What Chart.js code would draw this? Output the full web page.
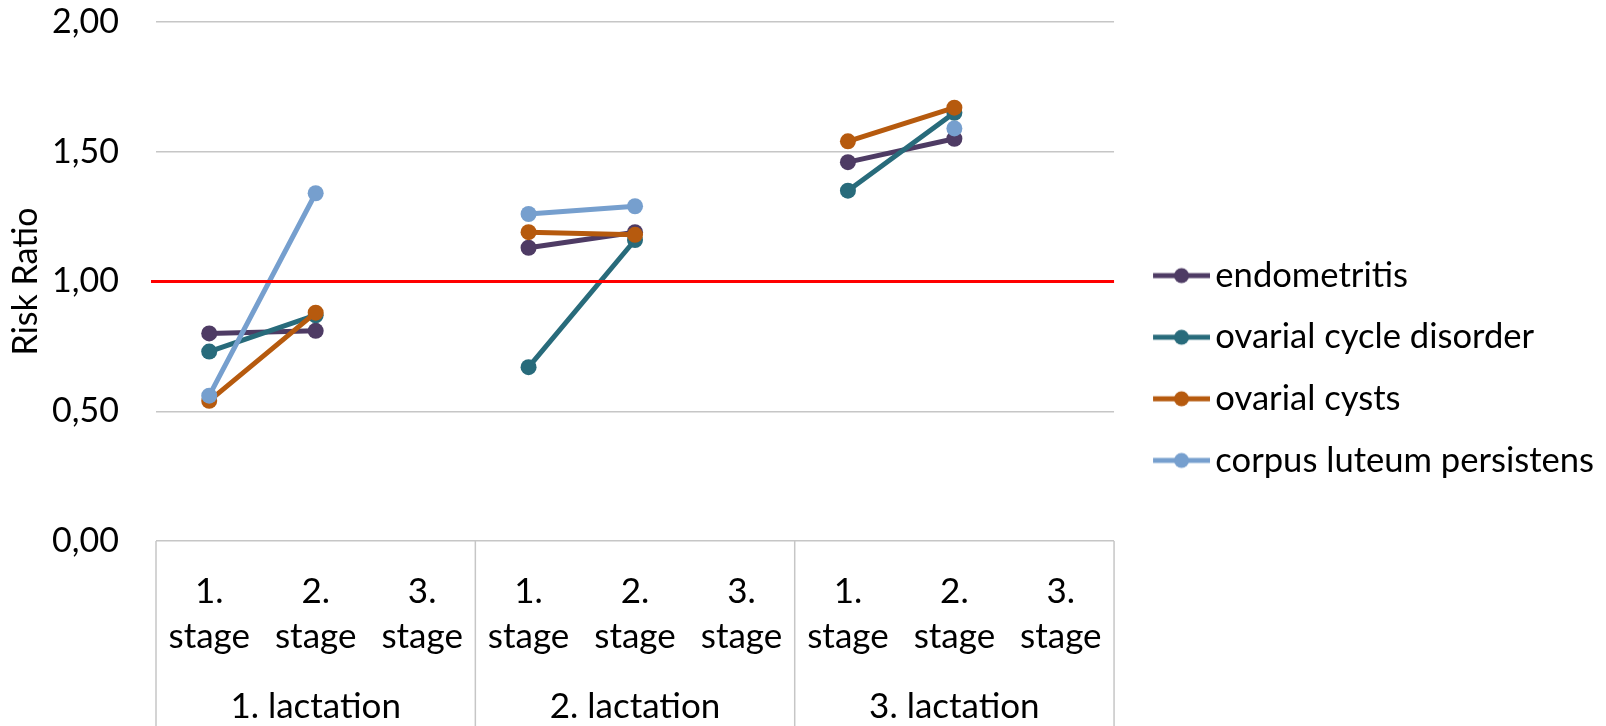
<!DOCTYPE html>
<html>
<head>
<meta charset="utf-8">
<script src="https://cdn.jsdelivr.net/npm/chart.js@4"></script>
<style>
    body { margin: 0; background: #fff; }
    #wrap { width: 1606px; height: 726px; }
</style>
</head>
<body>
<div id="wrap"><canvas id="riskChart" width="1606" height="726"></canvas></div>
<script>
const lactations = ['1. lactation', '2. lactation', '3. lactation'];
const stages = [
    ['1.', 'stage'], ['2.', 'stage'], ['3.', 'stage'],
    ['1.', 'stage'], ['2.', 'stage'], ['3.', 'stage'],
    ['1.', 'stage'], ['2.', 'stage'], ['3.', 'stage']
];
const yTicks = [0, 0.5, 1, 1.5, 2];
const referenceValue = 1;

const endometritis         = [0.80, 0.81, null, 1.13, 1.19, null, 1.46, 1.55, null];
const ovarialCycleDisorder = [0.73, 0.87, null, 0.67, 1.16, null, 1.35, 1.65, null];
const ovarialCysts         = [0.54, 0.88, null, 1.19, 1.18, null, 1.54, 1.67, null];
const corpusLuteum         = [0.56, 1.34, null, 1.26, 1.29, null, null, 1.59, null];

const seriesNames  = ['endometritis', 'ovarial cycle disorder', 'ovarial cysts', 'corpus luteum persistens'];
const seriesValues = [endometritis, ovarialCycleDisorder, ovarialCysts, corpusLuteum];
const seriesColors = ['#4E3B64', '#286B7B', '#B65A0E', '#769FCE'];

const FONT = 'Lato';
const GRID = '#C6C6C6';

// line + dot marker for the legend (the line starts a bit right of the image centre box)
function legendMarker(color) {
    const c = document.createElement('canvas');
    c.width = 69;
    c.height = 18;
    const g = c.getContext('2d');
    g.strokeStyle = color;
    g.lineWidth = 5;
    g.beginPath();
    g.moveTo(12, 9);
    g.lineTo(69, 9);
    g.stroke();
    g.fillStyle = color;
    g.beginPath();
    g.arc(40.5, 9, 7.5, 0, Math.PI * 2);
    g.fill();
    return c;
}

const datasets = seriesNames.map((name, i) => ({
    label: name,
    data: seriesValues[i],
    borderColor: seriesColors[i],
    backgroundColor: seriesColors[i],
    borderWidth: 5,
    pointRadius: 8,
    pointBorderWidth: 0,
    spanGaps: false,
    order: seriesNames.length - i
}));

const extraLines = {
    id: 'extraLines',
    afterLayout(chart) {
        // legend block sits a little higher in the reference
        chart.legend.top -= 12;
    },
    afterDatasetsDraw(chart) {
        const ctx = chart.ctx;
        const area = chart.chartArea;
        const xs = chart.scales.x;
        const ys = chart.scales.y;
        // red reference line at 1,00
        const yRef = ys.getPixelForValue(referenceValue);
        ctx.save();
        ctx.strokeStyle = '#FF0000';
        ctx.lineWidth = 3;
        ctx.beginPath();
        ctx.moveTo(area.left - 5, yRef);
        ctx.lineTo(area.right, yRef);
        ctx.stroke();
        // group separators in the category area
        ctx.strokeStyle = GRID;
        ctx.lineWidth = 1.5;
        for (let i = 0; i <= stages.length; i += 3) {
            const x = xs.getPixelForValue(i - 0.5);
            ctx.beginPath();
            ctx.moveTo(x, area.bottom);
            ctx.lineTo(x, chart.height);
            ctx.stroke();
        }
        ctx.restore();
    }
};

new Chart(document.getElementById('riskChart').getContext('2d'), {
    type: 'line',
    data: {
        labels: stages,
        datasets: datasets
    },
    options: {
        responsive: false,
        animation: false,
        events: [],
        layout: { padding: { top: 22, left: 0, right: 2, bottom: 0 } },
        plugins: {
            tooltip: { enabled: false },
            legend: {
                position: 'right',
                maxWidth: 490,
                labels: {
                    usePointStyle: true,
                    pointStyleWidth: 45,
                    padding: 27,
                    color: '#000',
                    font: { family: FONT, size: 34.6 },
                    generateLabels: chart => chart.data.datasets.map((ds, i) => ({
                        text: ds.label,
                        fillStyle: ds.borderColor,
                        strokeStyle: ds.borderColor,
                        lineWidth: 0,
                        fontColor: '#000',
                        pointStyle: legendMarker(ds.borderColor),
                        datasetIndex: i,
                        hidden: false
                    }))
                }
            }
        },
        scales: {
            x: {
                type: 'category',
                offset: true,
                grid: { display: false, drawTicks: false },
                border: { display: false },
                ticks: {
                    autoSkip: false,
                    maxRotation: 0,
                    minRotation: 0,
                    padding: 28.5,
                    color: '#000',
                    font: { family: FONT, size: 35, lineHeight: '45px' }
                }
            },
            x2: {
                type: 'category',
                position: 'bottom',
                labels: lactations,
                offset: true,
                grid: { display: false, drawTicks: false },
                border: { display: false },
                ticks: {
                    autoSkip: false,
                    maxRotation: 0,
                    padding: 0,
                    color: '#000',
                    font: { family: FONT, size: 35, lineHeight: '38px' }
                }
            },
            y: {
                min: 0,
                max: 2,
                afterBuildTicks: scale => { scale.ticks = yTicks.map(v => ({ value: v })); },
                afterFit: scale => {
                    scale.width = 156;
                    scale.paddingTop = 0;
                    scale.paddingBottom = 0;
                },
                grid: { color: GRID, lineWidth: 1.5, drawTicks: false },
                border: { display: false },
                ticks: {
                    padding: 37,
                    color: '#000',
                    font: { family: FONT, size: 34 },
                    callback: v => v.toFixed(2).replace('.', ',')
                },
                title: {
                    display: true,
                    text: 'Risk Ratio',
                    color: '#000',
                    padding: { top: 6, bottom: 0 },
                    font: { family: FONT, size: 34 }
                }
            },
            gap: {
                type: 'linear',
                position: 'right',
                ticks: { display: false },
                grid: { display: false, drawTicks: false },
                border: { display: false },
                afterFit: scale => {
                    scale.width = 12;
                    scale.paddingTop = 0;
                    scale.paddingBottom = 0;
                }
            }
        }
    },
    plugins: [extraLines]
});
</script>
</body>
</html>
